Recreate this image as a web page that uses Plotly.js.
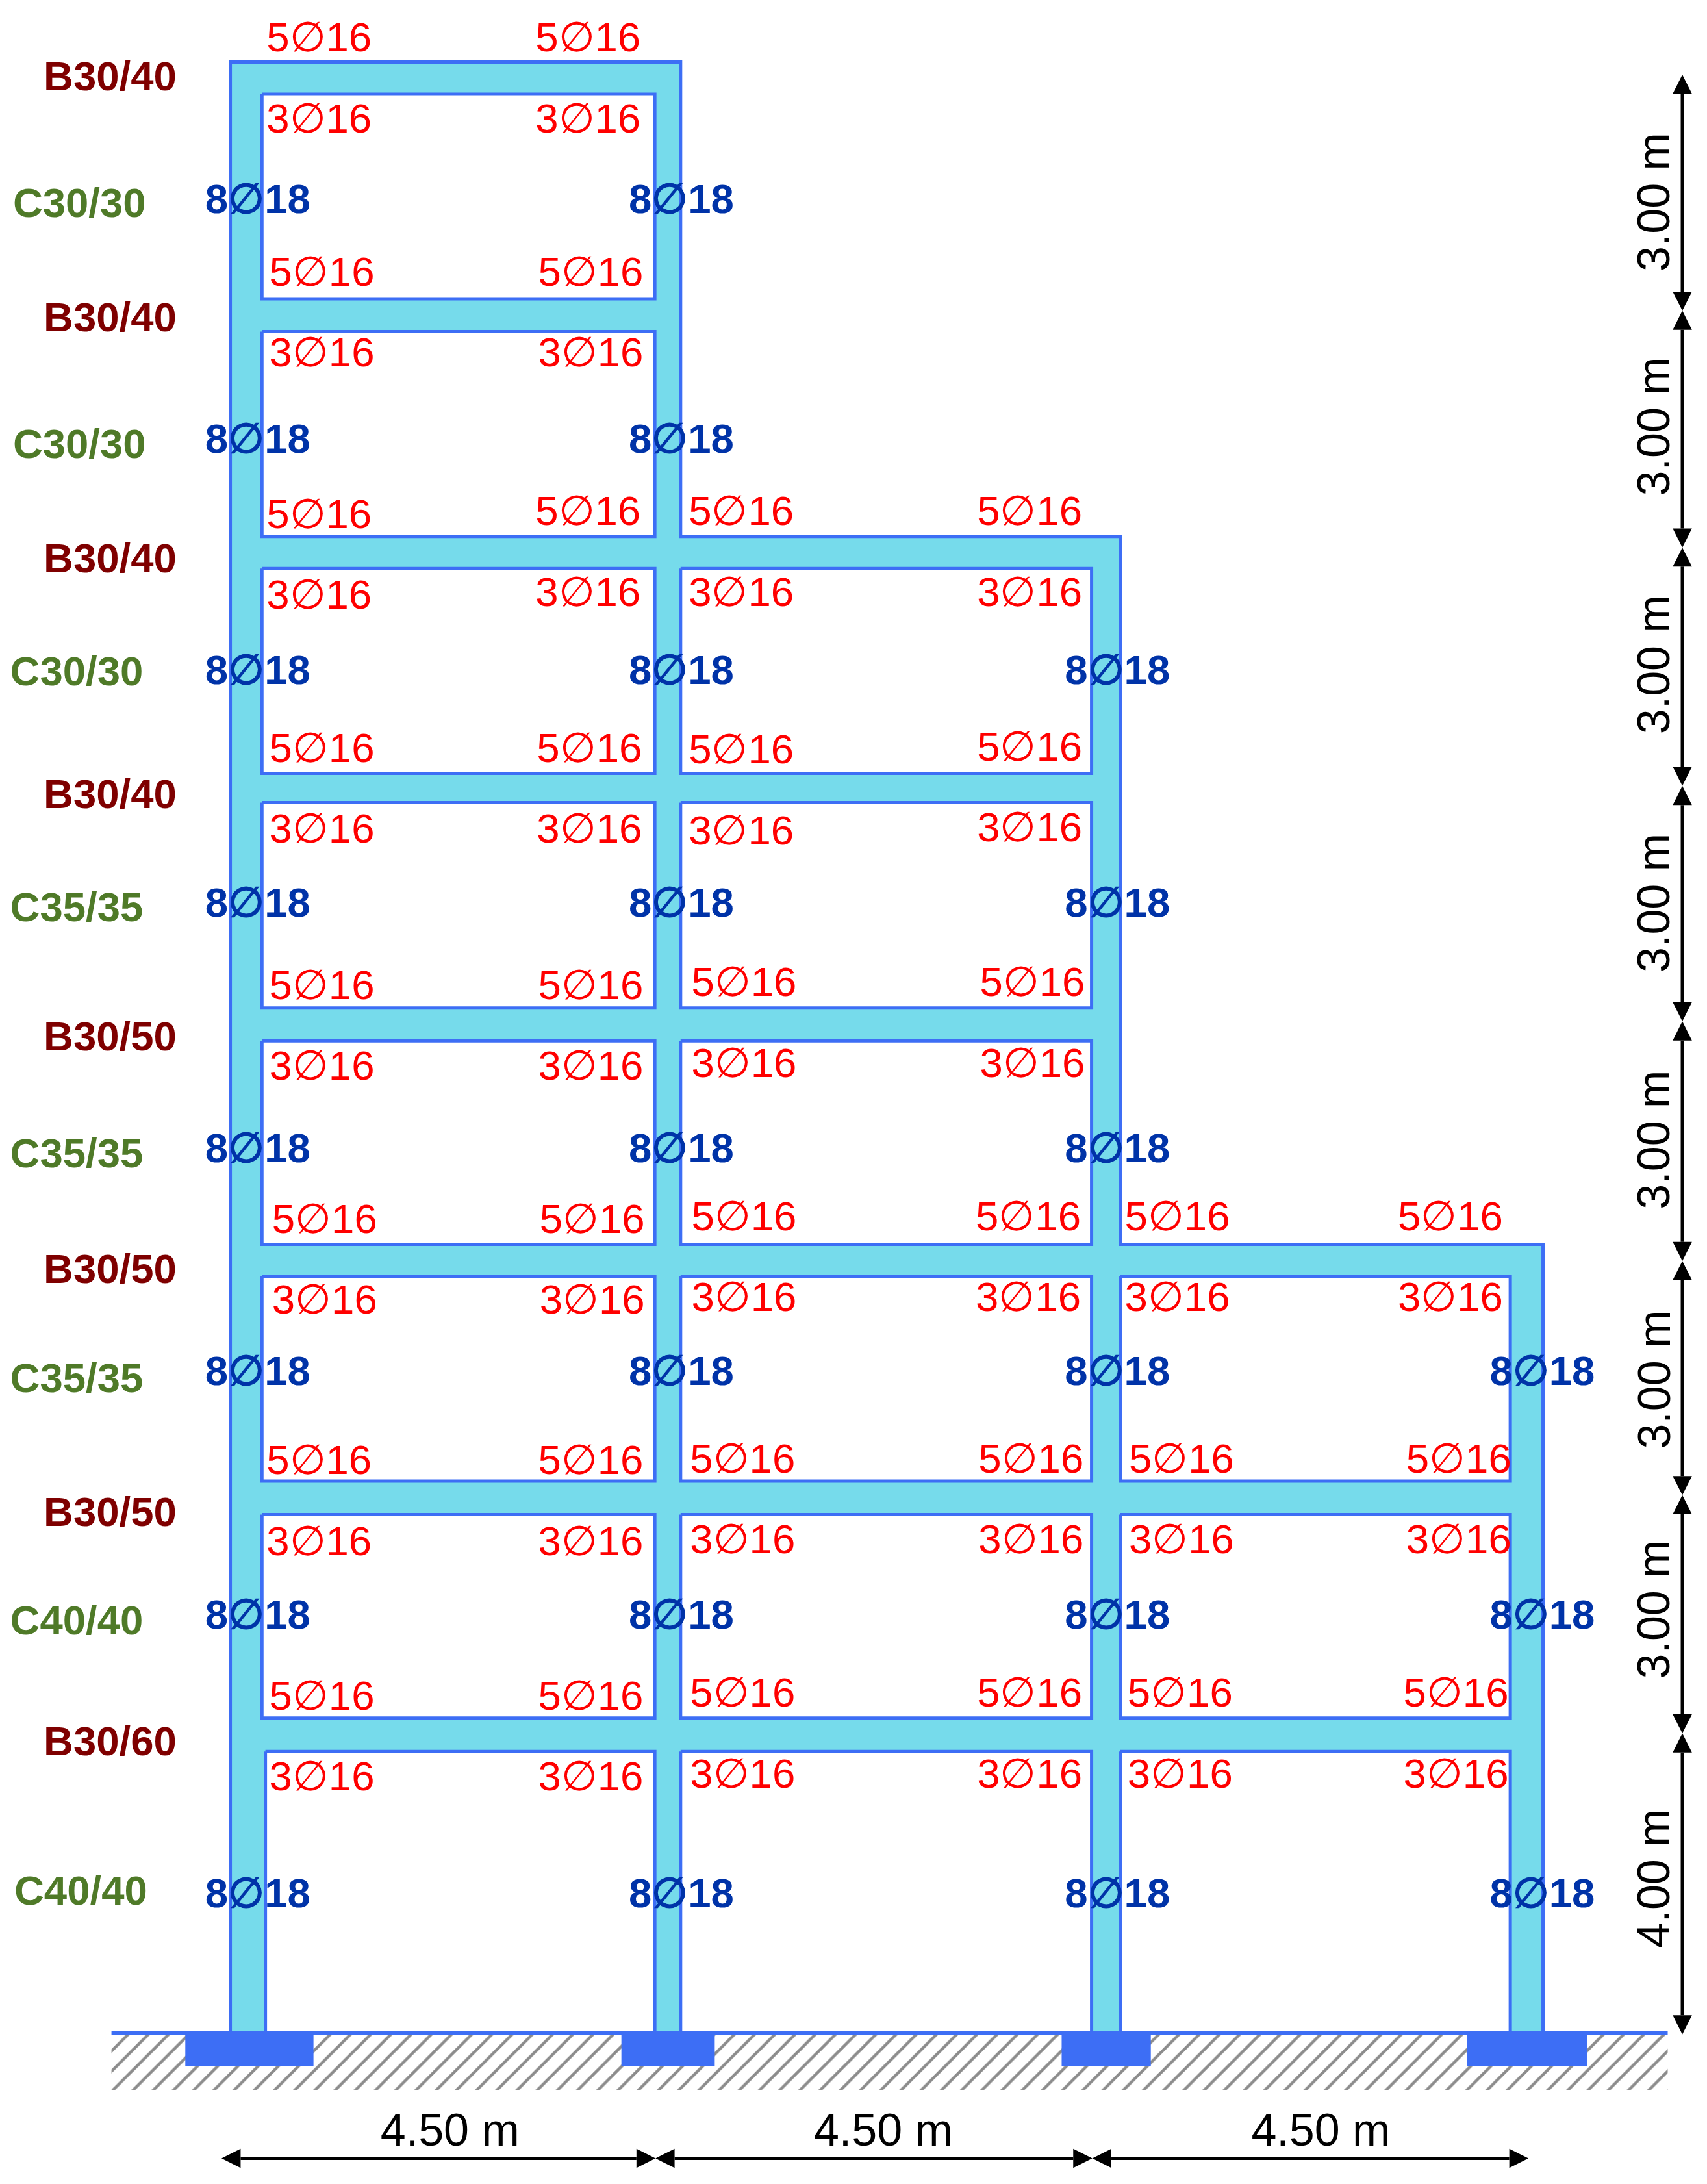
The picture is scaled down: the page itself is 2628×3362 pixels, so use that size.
<!DOCTYPE html>
<html><head><meta charset="utf-8">
<script src="https://cdn.plot.ly/plotly-3.0.1.min.js"></script>
<style>html,body{margin:0;padding:0;background:#fff}</style></head>
<body><div id="chart" style="width:2628px;height:3362px"></div>
<script>
const drawingWidth = 1225.2, drawingHeight = 1567.4;
const groundY = 1459, hatchBottom = 1500, groundLeft = 80, groundRight = 1197;
const outlineX = [165.3,165.3,488.5,488.5,804,804,1107.5,1107.5];
const outlineY = [1459,44.5,44.5,385,385,893,893,1459];
const panelTop    = [67.6,238,408,576,747,916,1087,1257];
const panelBottom = [214.5,385,555,723.5,893,1063,1233,1459];
const bayLeft  = [188,488.5,804];
const bayRight = [470,783.5,1084];
const bayFirstStorey = [0,2,5];
const groundBayLeft = 190.5;
const footingLeft  = [133,446,762,1053];
const footingRight = [225,513,826,1139];
const footingBottom = 1483;

const rebarText = ["5∅16","3∅16","5∅16","3∅16","5∅16","3∅16","5∅16","3∅16","5∅16","3∅16","5∅16","3∅16","5∅16","3∅16","5∅16","3∅16"];
const rebarX = [[229,422],[229,422],[231,424],[231,424],[229,422,532,739],[229,422,532,739],[231,423,532,739],[231,423,532,739],
  [231,424,534,741],[231,424,534,741],[233,425,534,738,845,1041],[233,425,534,738,845,1041],[229,424,533,740,848,1047],[229,424,533,740,848,1047],
  [231,424,533,739,847,1045],[231,424,533,739,847,1045]];
const rebarY = [[27,27],[85,85],[195,195],[253,253],[369,367,367,367],[427,425,425,425],[537,537,538,536],[595,595,596,594],
  [707,707,705,705],[765,765,763,763],[875,875,873,873,873,873],[933,933,931,931,931,931],[1048,1048,1047,1047,1047,1047],[1106,1106,1105,1105,1105,1105],
  [1217,1217,1215,1215,1215,1215],[1275,1275,1273,1273,1273,1273]];

const columnBarText = "8∅18";
const columnBarX = [185,489,802,1107];
const columnBarY = [143,315,481,648,824,984,1159,1359];
const columnBarCount = [2,2,3,3,3,4,4,4];

const beamLabels = ["B30/40","B30/40","B30/40","B30/40","B30/50","B30/50","B30/50","B30/60"];
const beamLabelX = [79,79,79,79,79,79,79,79];
const beamLabelY = [55,228,401,570,744,911,1085,1250];
const columnLabels = ["C30/30","C30/30","C30/30","C35/35","C35/35","C35/35","C40/40","C40/40"];
const columnLabelX = [57,57,55,55,55,55,55,58];
const columnLabelY = [146,319,482,651,828,989,1163,1357];

const heightLabels = ["3.00 m","3.00 m","3.00 m","3.00 m","3.00 m","3.00 m","3.00 m","4.00 m"];
const heightLabelY = [145,306,477,648,818,990,1155,1348];
const heightLabelX = 1187;
const heightStops = [53.6,223,393,564,733,905,1073,1244,1460];
const heightArrowX = 1207.5;
const spanLabels = ["4.50 m","4.50 m","4.50 m"];
const spanLabelX = [323,634,948];
const spanLabelY = 1529;
const spanStops = [159,470.5,784,1097];
const spanArrowY = 1549;
const headLength = 13.7, headHalf = 6.9;

const RED="#ff0000", BLUE="#0033a8", EDGE="#3d6ef5", CYAN="#76dbeb";
const SANS="Liberation Sans, Arial, sans-serif";
const traces=[];
function poly(x,y,fill,line,lw){
  traces.push({type:"scatter",mode:lw?"lines":"none",x,y,fill:"toself",fillcolor:fill,
    line:{color:line||fill,width:lw||0},hoverinfo:"skip",showlegend:false});
}
// ground hatch
traces.push({type:"scatter",mode:"none",x:[groundLeft,groundRight,groundRight,groundLeft,groundLeft],
  y:[groundY,groundY,hatchBottom,hatchBottom,groundY],fill:"toself",fillcolor:"#ffffff",
  fillpattern:{shape:"/",fgcolor:"#8c8c8c",bgcolor:"#ffffff",size:22,solidity:0.2},hoverinfo:"skip",showlegend:false});
// frame silhouette
poly(outlineX.concat(outlineX[0]),outlineY.concat(outlineY[0]),CYAN,EDGE,5);
// openings
bayLeft.forEach((l,b)=>{
  for(let s=bayFirstStorey[b];s<panelTop.length;s++){
    const L=(b===0&&s===panelTop.length-1)?groundBayLeft:l, R=bayRight[b];
    poly([L,R,R,L,L],[panelTop[s],panelTop[s],panelBottom[s],panelBottom[s],panelTop[s]],"#ffffff",EDGE,5);
  }
});
// ground line and footings
traces.push({type:"scatter",mode:"lines",x:[groundLeft,groundRight],y:[groundY,groundY],line:{color:EDGE,width:5},hoverinfo:"skip",showlegend:false});
footingLeft.forEach((l,i)=>{const r=footingRight[i];
  poly([l,r,r,l,l],[groundY,groundY,footingBottom,footingBottom,groundY],EDGE);});
// dimension lines
function hArrow(a,b,y){
  traces.push({type:"scatter",mode:"lines",x:[a+headLength,b-headLength],y:[y,y],line:{color:"#000",width:5},hoverinfo:"skip",showlegend:false});
  poly([a,a+headLength,a+headLength,a],[y,y-headHalf,y+headHalf,y],"#000");
  poly([b,b-headLength,b-headLength,b],[y,y-headHalf,y+headHalf,y],"#000");
}
function vArrow(a,b,x){
  traces.push({type:"scatter",mode:"lines",x:[x,x],y:[a+headLength,b-headLength],line:{color:"#000",width:5},hoverinfo:"skip",showlegend:false});
  poly([x,x-headHalf,x+headHalf,x],[a,a+headLength,a+headLength,a],"#000");
  poly([x,x-headHalf,x+headHalf,x],[b,b-headLength,b-headLength,b],"#000");
}
spanStops.slice(0,-1).forEach((a,i)=>hArrow(a,spanStops[i+1],spanArrowY));
heightStops.slice(0,-1).forEach((a,i)=>vArrow(a,heightStops[i+1],heightArrowX));
// labels
const labelDrop = 2.5; // the library centres on the line box, the picture on the digits
function labels(x,y,text,color,bold,size){
  traces.push({type:"scatter",mode:"text",x,y:y.map(v=>v+labelDrop),text:text.map(t=>bold?"<b>"+t+"</b>":t),textposition:"middle center",
    textfont:{family:SANS,size,color},hoverinfo:"skip",showlegend:false});
}
const rx=[],ry=[],rt=[];
rebarX.forEach((xs,i)=>xs.forEach((x,j)=>{rx.push(x);ry.push(rebarY[i][j]);rt.push(rebarText[i]);}));
labels(rx,ry,rt,RED,false,63.5);
const cx=[],cy=[],ct=[];
columnBarY.forEach((y,i)=>{for(let j=0;j<columnBarCount[i];j++){cx.push(columnBarX[j]);cy.push(y);ct.push(columnBarText);}});
labels(cx,cy,ct,BLUE,true,63.5);
labels(beamLabelX,beamLabelY,beamLabels,"#7f0000",true,63.5);
labels(columnLabelX,columnLabelY,columnLabels,"#4f7a28",true,63.5);
labels(spanLabelX,spanLabelX.map(()=>spanLabelY),spanLabels,"#000000",false,70);
const annotations=heightLabels.map((t,i)=>({x:heightLabelX,y:heightLabelY[i],xref:"x",yref:"y",text:t,textangle:-90,showarrow:false,
  xanchor:"center",yanchor:"middle",font:{family:SANS,size:70,color:"#000"}}));
Plotly.newPlot("chart",traces,{
  width:2628,height:3362,margin:{l:0,r:0,t:0,b:0},paper_bgcolor:"#fff",plot_bgcolor:"#fff",showlegend:false,
  xaxis:{range:[0,drawingWidth],visible:false,fixedrange:true},
  yaxis:{range:[drawingHeight,0],visible:false,fixedrange:true},
  annotations
},{displayModeBar:false,staticPlot:true});
</script></body></html>
